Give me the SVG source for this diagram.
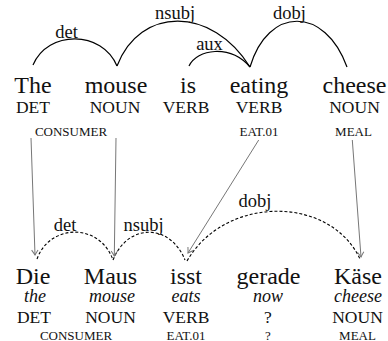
<svg xmlns="http://www.w3.org/2000/svg" width="388" height="341" viewBox="0 0 388 341" font-family="'Liberation Serif', 'Times New Roman', Tinos, 'DejaVu Serif', serif">
<style>
text{font-family:'Liberation Serif','Times New Roman',Tinos,'DejaVu Serif',serif;fill:#111;text-anchor:middle}
.w{font-size:24px}
.p{font-size:17.5px}
.s{font-size:13px}
.i{font-size:18px;font-style:italic}
.l{font-size:18.5px}
.arc{fill:none;stroke:#000;stroke-width:1.2}
.da{fill:none;stroke:#000;stroke-width:1.1;stroke-dasharray:3 2}
.al{fill:none;stroke:#777;stroke-width:1}
</style>
<defs>
<marker id="ah" viewBox="-6 -4 7 8" markerWidth="7" markerHeight="8" refX="0" refY="0" orient="auto" markerUnits="userSpaceOnUse">
<path d="M-5,-3.2 Q-1.5,-0.8 0,0 Q-1.5,0.8 -5,3.2" fill="none" stroke="#777" stroke-width="1"/>
</marker>
</defs>
<rect width="388" height="341" fill="#fff"/>
<g id="en-the"><text class="w" x="33" y="92.5">The</text><text class="p" x="33" y="113">DET</text></g>
<g id="en-mouse"><text class="w" x="116" y="92.5">mouse</text><text class="p" x="115" y="113">NOUN</text></g>
<g id="en-consumer"><text class="s" x="71" y="135.5">CONSUMER</text></g>
<g id="en-is"><text class="w" x="188" y="92.5">is</text><text class="p" x="186" y="113">VERB</text></g>
<g id="en-eating"><text class="w" x="259" y="92.5">eating</text><text class="p" x="259" y="113">VERB</text><text class="s" x="259" y="135.5">EAT.01</text></g>
<g id="en-cheese"><text class="w" x="354.5" y="92.5">cheese</text><text class="p" x="354.5" y="113">NOUN</text><text class="s" x="353.5" y="135.5">MEAL</text></g>
<g id="de-die"><text class="w" x="33" y="284.3">Die</text><text class="i" x="35" y="301.5">the</text><text class="p" x="34" y="322.7">DET</text></g>
<g id="de-maus"><text class="w" x="110.5" y="284.3">Maus</text><text class="i" x="112" y="301.5">mouse</text><text class="p" x="110.5" y="322.7">NOUN</text></g>
<g id="de-consumer"><text class="s" x="76" y="339.5">CONSUMER</text></g>
<g id="de-isst"><text class="w" x="186" y="284.3">isst</text><text class="i" x="186" y="301.5">eats</text><text class="p" x="186" y="322.7">VERB</text><text class="s" x="186" y="339.5">EAT.01</text></g>
<g id="de-gerade"><text class="w" x="268.5" y="284.3">gerade</text><text class="i" x="268" y="301.5">now</text><text class="p" x="268" y="322.7">?</text><text class="s" x="268" y="339.5">?</text></g>
<g id="de-kaese"><text class="w" x="358" y="284.3">Käse</text><text class="i" x="358" y="301.5">cheese</text><text class="p" x="357.5" y="322.7">NOUN</text><text class="s" x="357.5" y="339.5">MEAL</text></g>
<g id="connectors">
<path class="arc" d="M33,65 C48,30 102,30 117,66"/>
<path class="arc" d="M117,66 C140,6 212,6 250,67"/>
<path class="arc" d="M189,66 C197,49 230,44 250,67"/>
<path class="arc" d="M250,67 C268,6 325,6 347,67"/>
<text class="l" x="66.5" y="37.5">det</text>
<text class="l" x="175" y="19">nsubj</text>
<text class="l" x="209.5" y="50">aux</text>
<text class="l" x="289.5" y="19">dobj</text>
<path class="da" d="M37,259 C50,223 100,223 113,260"/>
<path class="da" d="M113,260 C128,223 170,223 185,260"/>
<path class="da" d="M187,261 C225,195 330,195 360,259"/>
<text class="l" x="65" y="230.5">det</text>
<text class="l" x="143.5" y="230.5">nsubj</text>
<text class="l" x="255" y="207">dobj</text>
<path class="al" d="M31,138 L35,255" marker-end="url(#ah)"/>
<path class="al" d="M116,138 L114.3,256" marker-end="url(#ah)"/>
<path class="al" d="M258.7,140 L188,253" marker-end="url(#ah)"/>
<path class="al" d="M352.3,140 L361,257" marker-end="url(#ah)"/>
</g>
</svg>
